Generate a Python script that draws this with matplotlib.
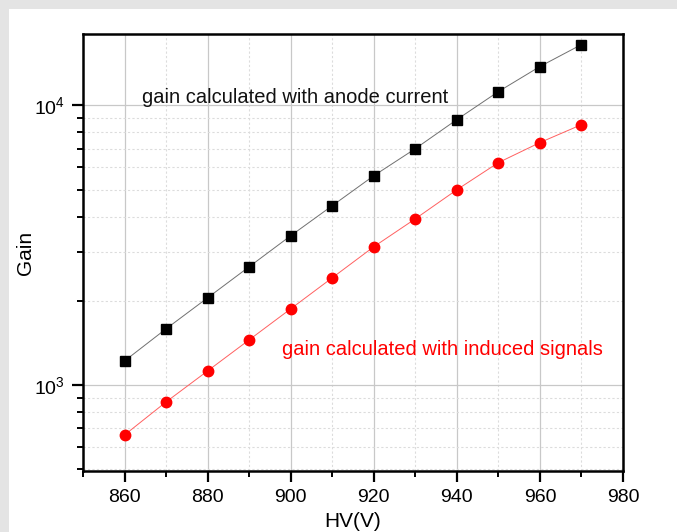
import matplotlib
matplotlib.use("Agg")
import matplotlib.pyplot as plt
from matplotlib.patches import Rectangle
from matplotlib.ticker import LogLocator, NullFormatter, MultipleLocator, FixedLocator

plt.rcParams['font.family'] = ['Liberation Sans', 'DejaVu Sans']
plt.rcParams['mathtext.fontset'] = 'custom'
plt.rcParams['mathtext.rm'] = 'Liberation Sans'
plt.rcParams['mathtext.it'] = 'Liberation Sans:italic'
plt.rcParams['mathtext.default'] = 'regular'

hv = [860, 870, 880, 890, 900, 910, 920, 930, 940, 950, 960, 970]
gain_anode = [1218, 1587, 2049, 2646, 3416, 4375, 5600, 6998, 8893, 11200, 13770, 16500]
gain_induced = [662, 869, 1122, 1449, 1871, 2416, 3120, 3927, 4990, 6240, 7360, 8530]
label_anode = "gain calculated with anode current"
label_induced = "gain calculated with induced signals"
xticks = [860, 880, 900, 920, 940, 960, 980]

fig = plt.figure(figsize=(6.77, 5.32), dpi=100)
fig.patch.set_facecolor('#e4e4e4')
bg = Rectangle((9/677, 0), 1, 1 - 9/532, transform=fig.transFigure,
               facecolor='white', edgecolor='none', zorder=-10)
fig.add_artist(bg)
ax = fig.add_axes([83/677, 1 - 471/532, (623-83)/677, (471-34)/532])
ax.set_zorder(5)
ax.patch.set_facecolor('white')
ax.set_yscale('log')
ax.set_xlim(850, 980)
ax.set_ylim(492, 18000)

ax.plot(hv, gain_anode, color='#707070', lw=0.7, marker='s', ms=6.5,
        mfc='black', mec='black', zorder=3)
ax.plot(hv, gain_induced, color='#ff6060', lw=0.7, marker='o', ms=7.5,
        mfc='#ff0000', mec='#ff0000', zorder=3)

ax.text(864.3, 10700, label_anode, fontsize=14.5, color='#111111', va='center', ha='left', zorder=4)
ax.text(898, 1335, label_induced, fontsize=14.5, color='#ff0000', va='center', ha='left', zorder=4)

ax.xaxis.set_major_locator(FixedLocator(xticks))
ax.xaxis.set_minor_locator(MultipleLocator(10))
ax.yaxis.set_major_locator(LogLocator(base=10))
ax.yaxis.set_minor_locator(LogLocator(base=10, subs=range(2, 10)))
ax.yaxis.set_minor_formatter(NullFormatter())

ax.grid(which='major', color='#c8c8c8', lw=0.9, ls='-')
ax.grid(which='minor', color='#dcdcdc', lw=0.8, ls=(0, (2, 2)))
ax.set_axisbelow(True)

for s in ax.spines.values():
    s.set_linewidth(1.8)
ax.tick_params(which='major', direction='out', length=8, width=1.6, labelsize=14, pad=5)
ax.tick_params(which='minor', direction='out', length=4.5, width=1.4)

ax.set_xlabel('HV(V)', fontsize=15, labelpad=4)
ax.set_ylabel('Gain', fontsize=15)
ax.yaxis.set_label_coords(-0.089, 0.5)

fig.savefig('out.png', dpi=100, facecolor=fig.get_facecolor())
